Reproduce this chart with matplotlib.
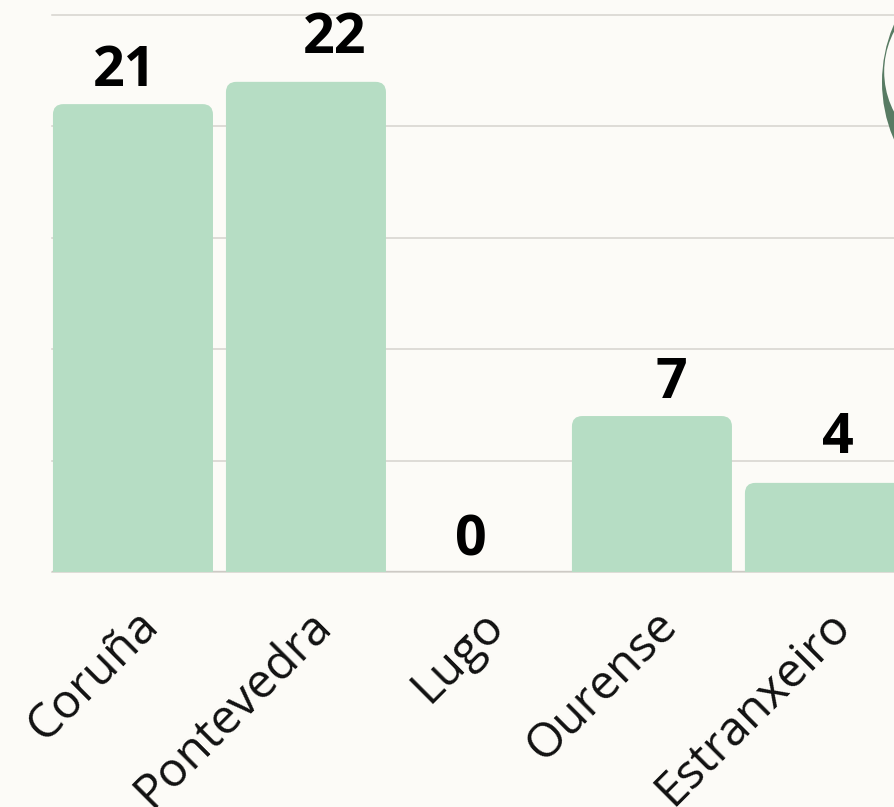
import matplotlib
matplotlib.use("Agg")
import matplotlib.pyplot as plt
from matplotlib.patches import FancyBboxPatch, Circle
from matplotlib.transforms import ScaledTranslation

# Datos
provincias = ["Coruña", "Pontevedra", "Lugo", "Ourense", "Estranxeiro"]
valores = [21, 22, 0, 7, 4]
# desplazamiento de cada etiqueta de valor (px a la derecha, px sobre la barra)
desplaz_x = [-8, 28.5, -8, 19, 13]
desplaz_y = [18, 29, 17, 18, 30]

FONDO = "#fcfbf7"
VERDE = "#b6ddc4"
DPI = 100

plt.rcParams["font.family"] = ["Open Sans", "DejaVu Sans"]

fig = plt.figure(figsize=(8.95, 8.07), dpi=DPI, facecolor=FONDO)
ax = fig.add_axes([52 / 895, (807 - 572) / 807, (895 - 52) / 895, (572 - 15) / 807])
ax.set_facecolor(FONDO)

x = list(range(len(provincias)))
barras = ax.bar(x, valores, width=0.925, color=VERDE, zorder=3)

# Esquinas redondeadas: se cambia cada rectangulo por una caja redondeada
# que empieza por debajo del eje (la parte inferior queda recortada)
aspecto = 173 / 22.27
for b in barras:
    b.set_visible(False)
    x0, w, h = b.get_x(), b.get_width(), b.get_height()
    if h <= 0:
        continue
    caja = FancyBboxPatch((x0, -2), w, h + 2,
                          boxstyle="round,pad=0,rounding_size=0.06",
                          mutation_aspect=aspecto, fc=VERDE, ec="none", zorder=3)
    ax.add_patch(caja)

ax.set_xlim(-0.468, 4.405)
ax.set_ylim(0, 25)
ax.set_yticks(range(0, 26, 5))
ax.yaxis.grid(True, color="#d6d3ce", lw=1.1, zorder=0)
for gl in ax.get_ygridlines():
    gl.set_clip_on(False)
ax.axhline(0, color="#b3b0aa", lw=1.6, zorder=1)
ax.tick_params(axis="y", left=False, labelleft=False)
for s in ax.spines.values():
    s.set_visible(False)

# Etiquetas del eje x giradas
ax.set_xticks(x)
ax.set_xticklabels(provincias, rotation=45, ha="right", va="top",
                   rotation_mode="anchor", fontsize=34.5, color="#111111")
ax.tick_params(axis="x", length=0, pad=21)
despl = ScaledTranslation(1 / DPI, 0, fig.dpi_scale_trans)
for lbl in ax.get_xticklabels():
    lbl.set_transform(lbl.get_transform() + despl)

# Valores sobre las barras
for xi, v, dx, dy in zip(x, valores, desplaz_x, desplaz_y):
    ax.annotate(str(v), xy=(xi, v), xytext=(dx * 72 / DPI, dy * 72 / DPI),
                textcoords="offset points", ha="center", va="baseline",
                fontsize=40, fontweight="bold", color="#000000",
                annotation_clip=False, zorder=5)

# Adorno verde (media luna) en la esquina superior derecha
trans = fig.dpi_scale_trans
fig.patches.append(Circle((1027 / DPI, (807 - 82) / DPI), 145 / DPI,
                          transform=trans, fc="#587b63", ec="none", zorder=10))
fig.patches.append(Circle((971 / DPI, (807 - 71.7) / DPI), 86.8 / DPI,
                          transform=trans, fc=FONDO, ec="none", zorder=11))

fig.savefig("out.png", dpi=DPI, facecolor=FONDO)
